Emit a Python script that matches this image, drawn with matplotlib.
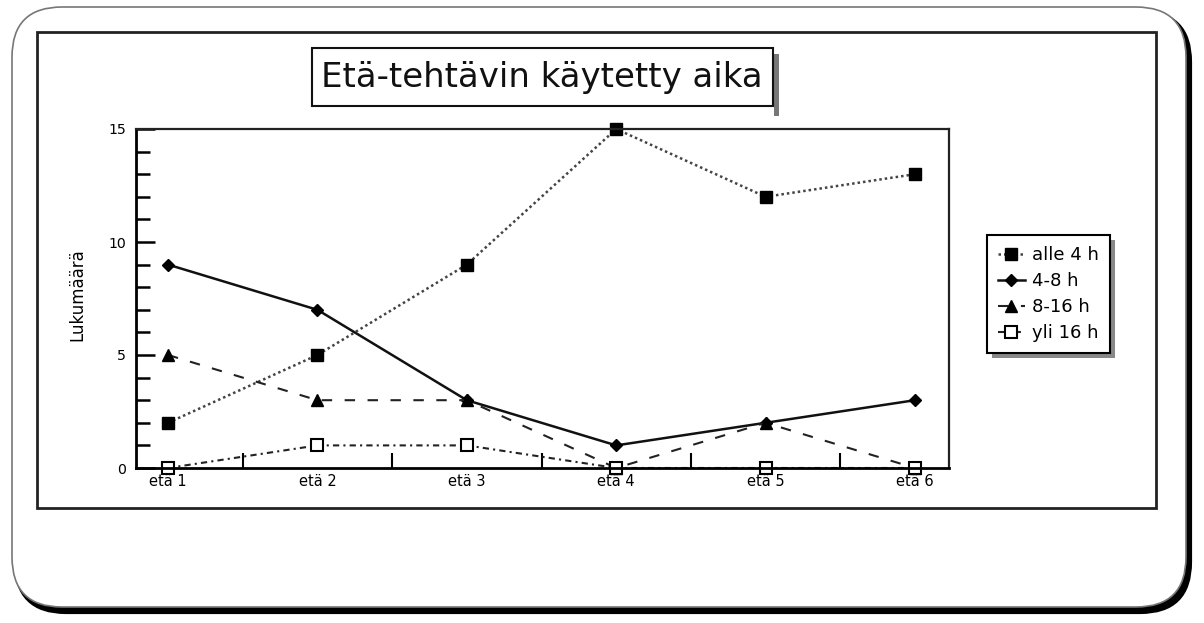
import matplotlib
matplotlib.use("Agg")
import matplotlib.pyplot as plt
from matplotlib.patches import FancyBboxPatch, Rectangle

plt.rcParams['font.family'] = ['DejaVu Sans']

categories = ["etä 1", "etä 2", "etä 3", "etä 4", "etä 5", "etä 6"]
alle_4h = [2, 5, 9, 15, 12, 13]
h4_8 = [9, 7, 3, 1, 2, 3]
h8_16 = [5, 3, 3, 0, 2, 0]
yli_16h = [0, 1, 1, 0, 0, 0]
series_labels = ["alle 4 h", "4-8 h", "8-16 h", "yli 16 h"]
title = "Etä-tehtävin käytetty aika"
ylabel = "Lukumäärä"

W, H = 1204, 623
fig = plt.figure(figsize=(W / 100, H / 100), dpi=100)

# background decoration axes in pixel coordinates
bg = fig.add_axes([0, 0, 1, 1], zorder=0)
bg.set_xlim(0, W)
bg.set_ylim(H, 0)
bg.axis('off')

# outer rounded frame with shadow
bg.add_patch(FancyBboxPatch((16, 12), 1174, 600, boxstyle="round,pad=0,rounding_size=50",
                            fc='black', ec='black', lw=3))
bg.add_patch(FancyBboxPatch((12, 7), 1174, 600, boxstyle="round,pad=0,rounding_size=50",
                            fc='white', ec='#777777', lw=1.2))
# inner rectangle
bg.add_patch(Rectangle((37, 32), 1119, 476, fc='white', ec='#222222', lw=2))

# title box with shadow
bg.add_patch(Rectangle((774, 54), 5, 62, fc='#777777', ec='none'))
bg.add_patch(Rectangle((312, 48), 461, 58, fc='white', ec='#111111', lw=1.5))
bg.text(542, 78, title, ha='center', va='center', fontsize=24.5, color='#111111')

# main axes
x0, x1, y0, y1 = 136, 949, 129, 468
ax = fig.add_axes([x0 / W, 1 - y1 / H, (x1 - x0) / W, (y1 - y0) / H], zorder=1)
ax.set_facecolor('none')
xs = list(range(len(categories)))

l1, = ax.plot(xs, alle_4h, linestyle=(0, (1, 1.2)), color='#444444', lw=1.8,
              marker='s', markersize=8.5, mfc='black', mec='black', clip_on=False)
l2, = ax.plot(xs, h4_8, linestyle='-', color='#111111', lw=1.8,
              marker='D', markersize=6.5, mfc='black', mec='black', clip_on=False)
l3, = ax.plot(xs, h8_16, linestyle=(0, (5, 6)), color='#222222', lw=1.5,
              marker='^', markersize=9, mfc='black', mec='black', clip_on=False)
l4, = ax.plot(xs, yli_16h, linestyle=(0, (3, 2, 1, 2)), color='#222222', lw=1.5,
              marker='s', markersize=8, mfc='white', mec='black', mew=1.5, clip_on=False)

step = 149.4
ax.set_xlim((x0 - 168) / step, (x1 - 168) / step)
ax.set_ylim(0, 15)

ax.set_xticks(xs)
ax.set_xticklabels(categories, fontsize=10.5)
ax.set_xticks([i + 0.5 for i in range(len(categories) - 1)], minor=True)
ax.tick_params(axis='x', which='major', length=0, pad=4)
ax.tick_params(axis='x', which='minor', direction='in', length=11, width=1.5)

ax.set_yticks([0, 5, 10, 15])
ax.set_yticklabels(["0", "5", "10", "15"], fontsize=10.2)
ax.set_yticks(range(0, 16), minor=True)
ax.tick_params(axis='y', which='major', direction='in', length=14, width=1.8, pad=7)
ax.tick_params(axis='y', which='minor', direction='in', length=10, width=1.8)

for s in ['left', 'bottom']:
    ax.spines[s].set_linewidth(2)
for s in ['top', 'right']:
    ax.spines[s].set_linewidth(1.6)
    ax.spines[s].set_color('#222222')

ax.set_ylabel(ylabel, fontsize=12)
ax.yaxis.set_label_coords((86 - x0) / (x1 - x0), 0.51)

# legend with shadow
leg = fig.legend([l1, l2, l3, l4], series_labels, loc='upper left',
                 bbox_to_anchor=(987 / W, 1 - 235 / H), fontsize=13,
                 frameon=True, fancybox=False, edgecolor='black', framealpha=1,
                 handlelength=1.5, handletextpad=0.4, labelspacing=0.45,
                 borderpad=0.6, borderaxespad=0)
leg.get_frame().set_linewidth(1.5)
leg.set_zorder(5)

fig.canvas.draw()
bb = leg.get_window_extent()
bg.add_patch(Rectangle((bb.x0 + 5, H - bb.y1 + 5), bb.width, bb.height,
                       fc='#888888', ec='none'))

fig.savefig("out.png", dpi=100)
